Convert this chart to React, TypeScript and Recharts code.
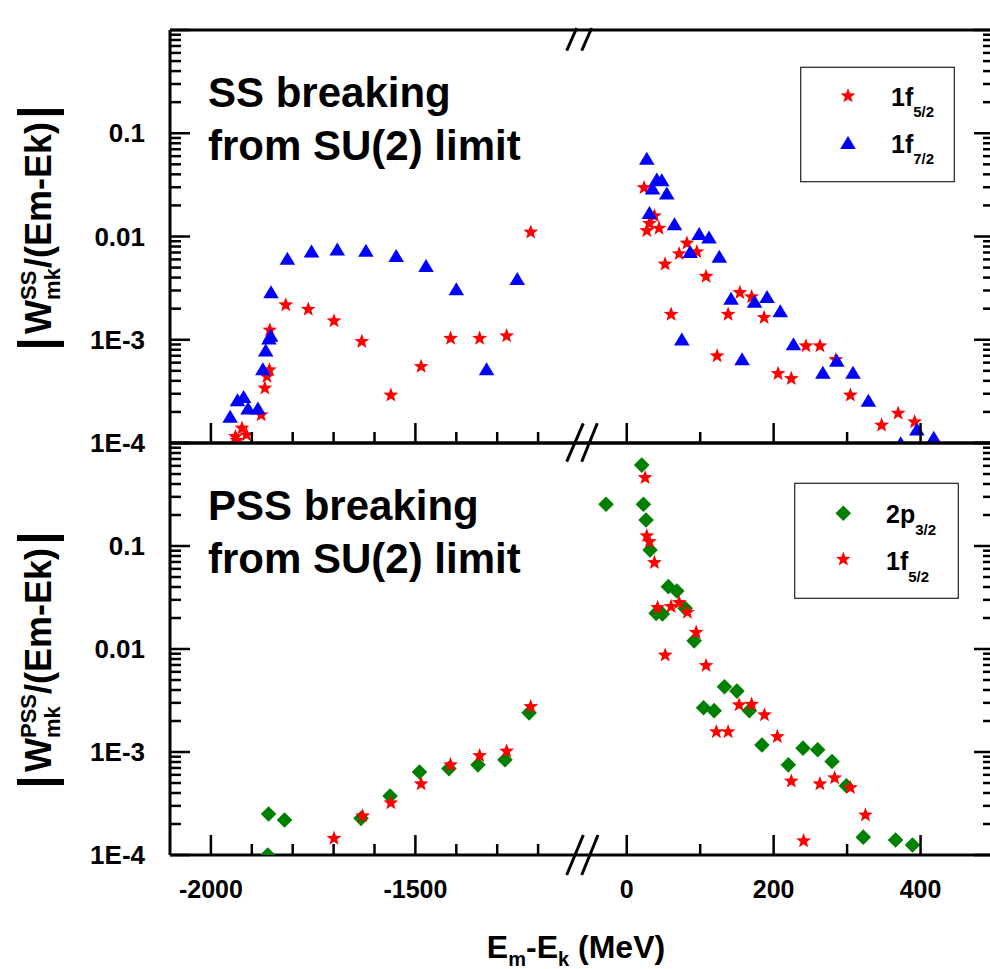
import React from "react";
import {Scatter, ScatterChart, XAxis, YAxis} from "recharts";

// ---- data: [E_m - E_k (MeV), |W/(Em-Ek)|] ----
const ssF52Left = [
    [-1940, 1.15e-4], [-1936, 1.06e-4], [-1924, 1.39e-4], [-1913, 1.2e-4], [-1877, 1.87e-4],
    [-1868, 3.4e-4], [-1863, 4.4e-4], [-1857, 5.1e-4], [-1856, 1.24e-3], [-1817, 2.17e-3],
    [-1762, 1.97e-3], [-1699, 1.52e-3], [-1631, 9.6e-4], [-1560, 2.9e-4], [-1486, 5.5e-4],
    [-1414, 1.03e-3], [-1343, 1.03e-3], [-1277, 1.09e-3], [-1218, 1.1e-2],
];
const ssF72Left = [
    [-1953, 1.8e-4], [-1935, 2.6e-4], [-1920, 2.8e-4], [-1909, 2.17e-4], [-1885, 2.17e-4],
    [-1873, 5.2e-4], [-1866, 7.9e-4], [-1858, 1.03e-3], [-1854, 1.1e-3], [-1853, 2.9e-3],
    [-1813, 6.1e-3], [-1754, 7.2e-3], [-1691, 7.5e-3], [-1621, 7.3e-3], [-1547, 6.5e-3],
    [-1474, 5.2e-3], [-1400, 3.1e-3], [-1326, 5.2e-4], [-1251, 3.9e-3],
];
const ssF52Right = [
    [23.6, 0.0297], [37.7, 0.0158], [30.9, 0.0134], [27.3, 0.0114], [44, 0.012],
    [82, 0.0086], [71.3, 0.0068], [95.5, 0.0071], [52.2, 0.0054], [108, 0.0041],
    [154, 2.86e-3], [170, 2.6e-3], [138, 1.76e-3], [187, 1.64e-3], [60.4, 1.76e-3],
    [123, 6.97e-4], [244, 8.7e-4], [263, 8.7e-4], [284.6, 6.4e-4], [206, 4.7e-4],
    [224, 4.2e-4], [304.5, 2.9e-4], [347, 1.49e-4], [369.5, 1.94e-4], [392, 1.6e-4],
];
const ssF72Right = [
    [27.3, 0.057], [40.9, 0.0358], [47.7, 0.0352], [35, 0.0293], [54.5, 0.0262],
    [30.9, 0.017], [65, 0.0132], [98.6, 0.0106], [112, 0.0098], [86.3, 0.0071],
    [126, 0.0064], [75, 1.01e-3], [142, 2.5e-3], [174, 2.34e-3], [191, 2.6e-3],
    [209, 1.9e-3], [157, 6.5e-4], [227, 9.1e-4], [267, 4.8e-4], [286, 6.3e-4],
    [308, 4.8e-4], [329, 2.57e-4], [395, 1.36e-4], [418, 1.13e-4], [373, 1.0e-4],
];
const pssP32Left = [
    [-1859, 2.5e-4], [-1820, 2.19e-4], [-1861, 1.0e-4], [-1633, 2.27e-4], [-1562, 3.74e-4],
    [-1490, 6.4e-4], [-1418, 6.9e-4], [-1347, 7.5e-4], [-1281, 8.4e-4], [-1222, 2.4e-3],
];
const pssF52Left = [
    [-1699, 1.45e-4], [-1629, 2.39e-4], [-1560, 3.2e-4], [-1486, 4.9e-4], [-1414, 7.5e-4],
    [-1343, 9.2e-4], [-1277, 1.02e-3], [-1218, 2.75e-3],
];
const pssP32Right = [
    [20.4, 0.61], [-28.2, 0.254], [22.7, 0.254], [26.3, 0.179], [31.8, 0.0915],
    [56.7, 0.0403], [68.2, 0.0366], [40, 0.0222], [48.6, 0.0219], [79.5, 0.0248],
    [91.8, 0.012], [133, 4.3e-3], [150, 3.9e-3], [104.6, 2.69e-3], [119, 2.52e-3],
    [167, 2.52e-3], [184, 1.17e-3], [220, 7.5e-4], [240, 1.09e-3], [260, 1.05e-3],
    [279.5, 8.1e-4], [299, 4.7e-4], [322, 1.49e-4], [366, 1.4e-4], [389, 1.25e-4],
];
const pssF52Right = [
    [25, 0.46], [27.3, 0.125], [30.9, 0.11], [37.7, 0.0689], [42, 0.0252],
    [60.4, 0.0258], [71.3, 0.0282], [82.6, 0.0227], [94.5, 0.0145], [52.3, 8.7e-3],
    [108, 6.9e-3], [153, 2.86e-3], [170, 2.9e-3], [187.5, 2.29e-3], [205, 1.41e-3],
    [122, 1.57e-3], [138, 1.57e-3], [224, 5.2e-4], [263, 4.9e-4], [283, 5.6e-4],
    [304.5, 4.5e-4], [325, 2.44e-4], [240.8, 1.37e-4],
];

// ---- axes ----
const leftDomain = [-2100, -1100];
const rightDomain = [-65, 500];
const leftTicks = [-2000, -1900, -1800, -1700, -1600, -1500, -1400, -1300, -1200];
const leftMajor = [-2000, -1500];
const rightTicks = [0, 100, 200, 300, 400];
const rightMajor = [0, 200, 400];
const yDecades = [1e-4, 1e-3, 1e-2, 1e-1, 1];
const yDecadeLabels = ["1E-4", "1E-3", "0.01", "0.1", ""];
const yMinorSteps = [2, 3, 4, 5, 6, 7, 8, 9];
const yTicks = yDecades.flatMap((d, i) => i < yDecades.length - 1 ? [d, ...yMinorSteps.map(s => d * s)] : [d]);

const H = 969;
const CHART_W = 1000;
const LEFT = 170, BREAK = 579, RIGHT = 994;
const TOP_PANEL = {top: 30, bottom: 443};
const BOT_PANEL = {top: 443, bottom: 855};
const MAJOR = 20, MINOR = 11, TICK_W = 2.5;
const FONT = "'Liberation Sans', Arial, Helvetica, sans-serif";
const axisLine = {stroke: "#000", strokeWidth: 3};

const toPts = (arr: number[][]) => arr.map(([x, y]) => ({x, y}));
const decadeIndex = (v: number) => yDecades.findIndex(d => Math.abs(v / d - 1) < 1e-9);

// ---- markers ----
function starPath(cx: number, cy: number, R: number) {
    const r = R * 0.42;
    let d = "";
    for (let i = 0; i < 10; i++) {
        const a = -Math.PI / 2 + i * Math.PI / 5;
        const rr = i % 2 === 0 ? R : r;
        d += (i === 0 ? "M" : "L") + (cx + rr * Math.cos(a)).toFixed(2) + "," + (cy + rr * Math.sin(a)).toFixed(2);
    }
    return d + "Z";
}

const Star = ({cx, cy}: any) => <path d={starPath(cx, cy, 7.8)} fill="#ff0000"/>;
const Triangle = ({cx, cy}: any) =>
    <path d={`M${cx},${cy - 6.8}L${cx + 7.8},${cy + 6.2}L${cx - 7.8},${cy + 6.2}Z`} fill="#0000ff"/>;
const Diamond = ({cx, cy}: any) =>
    <path d={`M${cx},${cy - 7.8}L${cx + 7.8},${cy}L${cx},${cy + 7.8}L${cx - 7.8},${cy}Z`} fill="#008000"/>;

type Series = { data: number[][], shape: (p: any) => React.ReactElement };

// one segment of one panel; axes get a 1px size (a 0-size axis is not drawn), margins absorb it
function Segment({panel, side, series, xLabels}: {
    panel: { top: number, bottom: number }, side: "left" | "right", series: Series[], xLabels: boolean
}) {
    const isLeft = side === "left";
    const x0 = isLeft ? LEFT : BREAK;
    const x1 = isLeft ? BREAK : RIGHT;
    const domain = isLeft ? leftDomain : rightDomain;
    const ticks = isLeft ? leftTicks : rightTicks;
    const majors = isLeft ? leftMajor : rightMajor;
    const xLen = (v: number) => majors.includes(v) ? MAJOR : MINOR;
    const yLen = (v: number) => decadeIndex(v) >= 0 ? MAJOR : MINOR;

    return (
        <div style={{position: "absolute", left: 0, top: 0}}>
            <ScatterChart width={CHART_W} height={H}
                          margin={{
                              top: panel.top - 1,
                              bottom: H - panel.bottom - 1,
                              left: isLeft ? x0 - 1 : x0,
                              right: isLeft ? CHART_W - x1 : CHART_W - x1 - 1,
                          }}>
                <XAxis xAxisId="b" type="number" dataKey="x" domain={domain} ticks={ticks} interval={0}
                       allowDataOverflow height={1} axisLine={axisLine} tickLine={false}
                       tick={(p: any) => (
                           <g>
                               <line x1={p.x} x2={p.x} y1={panel.bottom} y2={panel.bottom - xLen(p.payload.value)}
                                     stroke="#000" strokeWidth={TICK_W}/>
                               {xLabels && majors.includes(p.payload.value) &&
                                   <text x={p.x} y={898} textAnchor="middle" fontFamily={FONT} fontWeight="bold"
                                         fontSize={25} fill="#000">{String(p.payload.value)}</text>}
                           </g>
                       )}/>
                <XAxis xAxisId="t" orientation="top" type="number" domain={domain} ticks={ticks} interval={0}
                       allowDataOverflow height={1} axisLine={axisLine} tickLine={false}
                       tick={(p: any) => (
                           <line x1={p.x} x2={p.x} y1={panel.top} y2={panel.top + xLen(p.payload.value)}
                                 stroke="#000" strokeWidth={TICK_W}/>
                       )}/>
                <YAxis yAxisId="l" type="number" dataKey="y" scale="log" domain={[1e-4, 1]} ticks={yTicks}
                       interval={0} allowDataOverflow width={1} hide={!isLeft} axisLine={axisLine} tickLine={false}
                       tick={(p: any) => {
                           const i = decadeIndex(p.payload.value);
                           return (
                               <g>
                                   <line x1={LEFT} x2={LEFT + yLen(p.payload.value)} y1={p.y} y2={p.y}
                                         stroke="#000" strokeWidth={TICK_W}/>
                                   {i >= 0 && yDecadeLabels[i] &&
                                       <text x={145} y={p.y + 9} textAnchor="end" fontFamily={FONT} fontWeight="bold"
                                             fontSize={26} fill="#000">{yDecadeLabels[i]}</text>}
                               </g>
                           );
                       }}/>
                {!isLeft &&
                    <YAxis yAxisId="r" orientation="right" type="number" scale="log" domain={[1e-4, 1]}
                           ticks={yTicks} interval={0} allowDataOverflow width={1} axisLine={axisLine}
                           tickLine={false}
                           tick={(p: any) => (
                               <line x1={RIGHT} x2={RIGHT - yLen(p.payload.value)} y1={p.y} y2={p.y}
                                     stroke="#000" strokeWidth={TICK_W}/>
                           )}/>}
                {series.map((s, k) => (
                    <Scatter key={k} xAxisId="b" yAxisId="l" data={toPts(s.data)} shape={s.shape}
                             isAnimationActive={false}/>
                ))}
            </ScatterChart>
        </div>
    );
}

function YTitle({cy, sup, supW, subW}: { cy: number, sup: string, supW: number, subW: number }) {
    const extra = Math.max(supW, subW);
    const half = (34 + extra + 146) / 2;
    return (
        <g transform={`translate(51,${cy}) rotate(-90)`}>
            <text x={0} y={0} textAnchor="middle" fontFamily={FONT} fontWeight="bold" fontSize={36} fill="#000">
                W
                <tspan dy={-15} fontSize={22}>{sup}</tspan>
                <tspan dx={-supW} dy={24} fontSize={22}>mk</tspan>
                <tspan dx={extra - subW} dy={-9}>/(Em-Ek)</tspan>
            </text>
            <rect x={-half - 13} y={-34} width={6} height={47} fill="#000"/>
            <rect x={half + 7} y={-34} width={6} height={47} fill="#000"/>
        </g>
    );
}

const breakMarks = [
    [566.7, 50.7, 576.7, 28], [581.7, 50.7, 591.7, 28],
    [566.7, 461.7, 583.3, 423.3], [581.7, 461.7, 597.3, 423.3],
    [566.7, 875, 583.3, 835], [581.7, 875, 598, 835],
];

function Overlay() {
    const t = {fontFamily: FONT, fontWeight: "bold" as const, fill: "#000"};
    return (
        <svg width={990} height={969} style={{position: "absolute", left: 0, top: 0}}>
            {breakMarks.map(([a, b, c, d], i) => (
                <line key={i} x1={a} y1={b} x2={c} y2={d} stroke="#000" strokeWidth={3}/>
            ))}
            <text x={208} y={107} fontSize={42} {...t}>SS breaking</text>
            <text x={208} y={160} fontSize={42} {...t}>from SU(2) limit</text>
            <text x={208} y={520} fontSize={42} {...t}>PSS breaking</text>
            <text x={208} y={573} fontSize={42} {...t}>from SU(2) limit</text>

            <YTitle cy={228} sup="SS" supW={29.3} subW={31.8}/>
            <YTitle cy={660} sup="PSS" supW={44} subW={31.8}/>

            <text x={576} y={958} textAnchor="middle" fontSize={32} {...t}>
                E<tspan dy={8} fontSize={20}>m</tspan><tspan dy={-8}>-E</tspan>
                <tspan dy={8} fontSize={20}>k</tspan><tspan dy={-8}> (MeV)</tspan>
            </text>

            <rect x={800.7} y={67.3} width={153.6} height={114.4} fill="#fff" stroke="#222" strokeWidth={1.2}/>
            <Star cx={848} cy={96}/>
            <Triangle cx={848} cy={142.7}/>
            <text x={891} y={106} fontSize={25} {...t}>1f<tspan dy={11} fontSize={15}>5/2</tspan></text>
            <text x={891} y={153} fontSize={25} {...t}>1f<tspan dy={11} fontSize={15}>7/2</tspan></text>

            <rect x={794.7} y={483.3} width={163.6} height={115} fill="#fff" stroke="#222" strokeWidth={1.2}/>
            <Diamond cx={843.3} cy={513.3}/>
            <Star cx={843.3} cy={559.3}/>
            <text x={886} y={523} fontSize={25} {...t}>2p<tspan dy={12} fontSize={15}>3/2</tspan></text>
            <text x={886} y={570} fontSize={25} {...t}>1f<tspan dy={12} fontSize={15}>5/2</tspan></text>
        </svg>
    );
}

export default function App() {
    return (
        <div style={{position: "absolute", left: 0, top: 0, width: 990, height: 969, overflow: "hidden", background: "#fff"}}>
            <Segment panel={TOP_PANEL} side="left" xLabels={false}
                     series={[{data: ssF52Left, shape: Star}, {data: ssF72Left, shape: Triangle}]}/>
            <Segment panel={TOP_PANEL} side="right" xLabels={false}
                     series={[{data: ssF52Right, shape: Star}, {data: ssF72Right, shape: Triangle}]}/>
            <Segment panel={BOT_PANEL} side="left" xLabels={true}
                     series={[{data: pssP32Left, shape: Diamond}, {data: pssF52Left, shape: Star}]}/>
            <Segment panel={BOT_PANEL} side="right" xLabels={true}
                     series={[{data: pssP32Right, shape: Diamond}, {data: pssF52Right, shape: Star}]}/>
            <Overlay/>
        </div>
    );
}
